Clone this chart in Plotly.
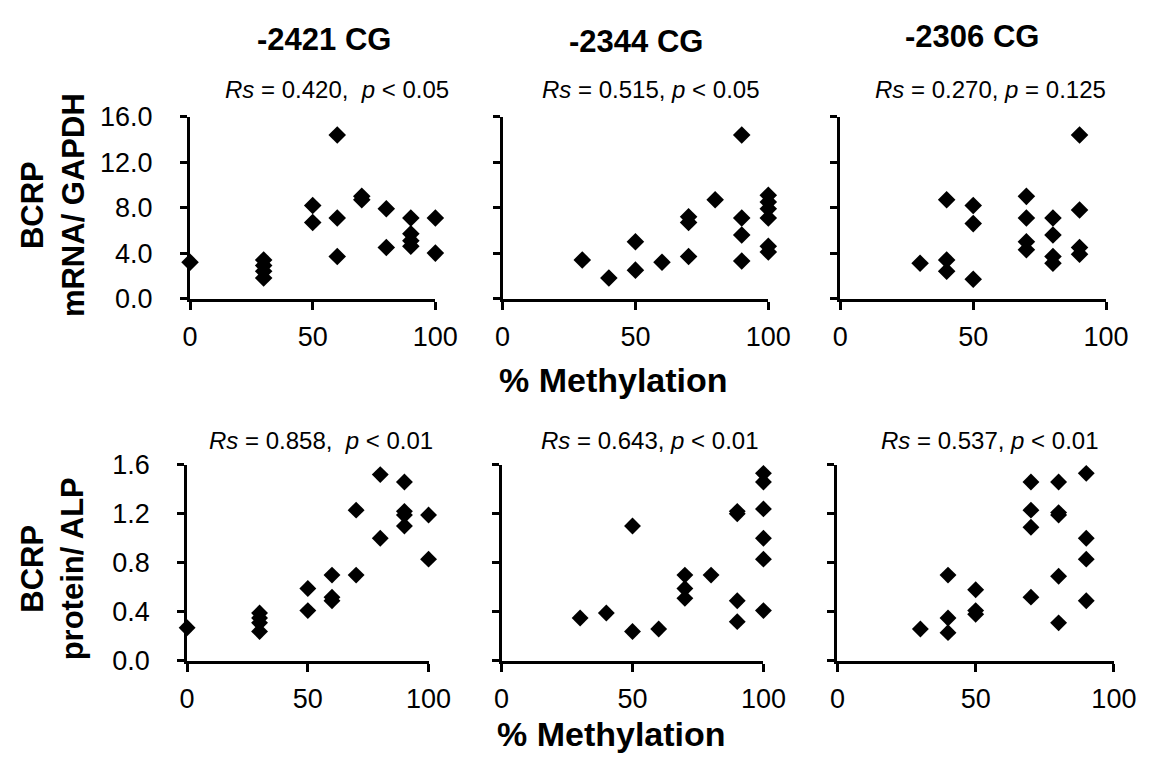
import plotly.graph_objects as go

W, H = 1170, 771

# ---------------- data ----------------
cg_titles = ["-2421 CG", "-2344 CG", "-2306 CG"]
mrna_stats = ["<i>Rs</i> = 0.420,  <i>p</i> < 0.05",
              "<i>Rs</i> = 0.515, <i>p</i> < 0.05",
              "<i>Rs</i> = 0.270, <i>p</i> = 0.125"]
prot_stats = ["<i>Rs</i> = 0.858,  <i>p</i> < 0.01",
              "<i>Rs</i> = 0.643, <i>p</i> < 0.01",
              "<i>Rs</i> = 0.537, <i>p</i> < 0.01"]

# BCRP mRNA / GAPDH vs % methylation
mrna_x_2421 = [0, 30, 30, 30, 30, 50, 50, 60, 60, 60, 70, 70, 80, 80, 90, 90, 90, 90, 100, 100]
mrna_y_2421 = [3.2, 3.4, 2.9, 2.4, 1.8, 8.2, 6.7, 14.4, 7.1, 3.7, 9.0, 8.7, 7.9, 4.5, 7.1, 5.7, 5.1, 4.6, 7.1, 4.0]

mrna_x_2344 = [30, 40, 50, 50, 60, 70, 70, 70, 80, 90, 90, 90, 90, 100, 100, 100, 100, 100, 100]
mrna_y_2344 = [3.4, 1.8, 5.0, 2.5, 3.2, 7.2, 6.7, 3.7, 8.7, 14.4, 7.1, 5.6, 3.3, 9.1, 8.5, 7.9, 7.1, 4.6, 4.1]

mrna_x_2306 = [30, 40, 40, 40, 50, 50, 50, 70, 70, 70, 70, 80, 80, 80, 80, 90, 90, 90, 90]
mrna_y_2306 = [3.1, 8.7, 3.4, 2.4, 8.2, 6.6, 1.7, 9.0, 7.1, 5.0, 4.3, 7.1, 5.6, 3.7, 3.1, 14.4, 7.8, 4.5, 3.9]

# BCRP protein / ALP vs % methylation
prot_x_2421 = [0, 30, 30, 30, 30, 50, 50, 60, 60, 60, 70, 70, 80, 80, 90, 90, 90, 90, 100, 100]
prot_y_2421 = [0.27, 0.39, 0.35, 0.31, 0.24, 0.59, 0.41, 0.70, 0.52, 0.49, 1.23, 0.70, 1.52, 1.00, 1.46, 1.22, 1.19, 1.10, 1.19, 0.83]

prot_x_2344 = [30, 40, 50, 50, 60, 70, 70, 70, 80, 90, 90, 90, 90, 100, 100, 100, 100, 100, 100]
prot_y_2344 = [0.35, 0.39, 1.10, 0.24, 0.26, 0.70, 0.59, 0.51, 0.70, 1.22, 1.20, 0.49, 0.32, 1.53, 1.46, 1.24, 1.00, 0.83, 0.41]

prot_x_2306 = [30, 40, 40, 40, 50, 50, 50, 70, 70, 70, 70, 80, 80, 80, 80, 80, 90, 90, 90, 90]
prot_y_2306 = [0.26, 0.70, 0.35, 0.23, 0.58, 0.41, 0.38, 1.46, 1.23, 1.09, 0.52, 1.46, 1.21, 1.19, 0.69, 0.31, 1.53, 1.00, 0.83, 0.49]

x_ticks = [0, 50, 100]
mrna_ticks = [0, 4, 8, 12, 16]
prot_ticks = [0, 0.4, 0.8, 1.2, 1.6]

# ---------------- layout helpers ----------------
FONT = "Liberation Sans, Arial, sans-serif"


def px_x(p):
    return p / W


def px_y(p):
    return 1 - p / H


# plot-area pixel boxes (left, right, top, bottom)
boxes = [
    (187, 439, 106, 295), (508, 781, 106, 295), (855, 1128, 106, 295),
    (184, 432, 468, 672), (507, 776, 468, 672), (852, 1136, 468, 672),
]

series = [
    (mrna_x_2421, mrna_y_2421), (mrna_x_2344, mrna_y_2344), (mrna_x_2306, mrna_y_2306),
    (prot_x_2421, prot_y_2421), (prot_x_2344, prot_y_2344), (prot_x_2306, prot_y_2306),
]

fig = go.Figure()
layout = {}
for i, ((xs, ys), (l, r, t, b)) in enumerate(zip(series, boxes)):
    n = i + 1
    xa = "xaxis" if n == 1 else f"xaxis{n}"
    ya = "yaxis" if n == 1 else f"yaxis{n}"
    xr = "x" if n == 1 else f"x{n}"
    yr = "y" if n == 1 else f"y{n}"
    top_row = i < 3
    fig.add_trace(go.Scatter(
        x=xs, y=ys, xaxis=xr, yaxis=yr, mode="markers", cliponaxis=False,
        marker=dict(symbol="diamond", size=13.5 if top_row else 13, color="black",
                    line=dict(width=0)),
        showlegend=False, hoverinfo="x+y"))
    layout[xa] = dict(
        domain=[px_x(l), px_x(r)], anchor=yr, range=[0, 100],
        tickvals=x_ticks, ticktext=[str(v) for v in x_ticks],
        showline=True, linecolor="black", linewidth=3, mirror=False,
        ticks="outside", ticklen=8, tickwidth=3, tickcolor="black",
        showgrid=False, zeroline=False,
        tickfont=dict(family=FONT, size=27, color="black"),
        ticklabelstandoff=4, fixedrange=True)
    yt = mrna_ticks if top_row else prot_ticks
    layout[ya] = dict(
        domain=[px_y(b), px_y(t)], anchor=xr, range=[0, yt[-1]],
        tickvals=yt, ticktext=[f"{v:.1f}" for v in yt],
        showticklabels=(i % 3 == 0),
        showline=True, linecolor="black", linewidth=3, mirror=False,
        ticks="outside", ticklen=7, tickwidth=3, tickcolor="black",
        showgrid=False, zeroline=False,
        tickfont=dict(family=FONT, size=27, color="black"),
        ticklabelstandoff=22, fixedrange=True)

annotations = []


def ann(text, x, y, size, bold=False, angle=0):
    annotations.append(dict(
        text=f"<b>{text}</b>" if bold else text, x=px_x(x), y=px_y(y),
        xref="paper", yref="paper", xanchor="center", yanchor="middle",
        showarrow=False, textangle=angle, align="center",
        font=dict(family=FONT, size=size, color="black")))


# column titles
for title, cx, cy in zip(cg_titles, [325, 645, 990], [25, 28, 22]):
    ann(title, cx, cy, 31, bold=True)
# statistics
for s, cx in zip(mrna_stats, [338, 660, 1009]):
    ann(s, cx, 77, 24)
for s, cx in zip(prot_stats, [322, 659, 1009]):
    ann(s, cx, 443, 24)
# x-axis titles
ann("% Methylation", 622, 380, 34, bold=True)
ann("% Methylation", 620, 748, 34, bold=True)
# y-axis titles
ann("BCRP<br>mRNA/ GAPDH", 46, 198, 31, bold=True, angle=-90)
ann("BCRP<br>protein/ ALP", 46, 576, 31, bold=True, angle=-90)

fig.update_layout(
    width=W, height=H, margin=dict(l=0, r=0, t=0, b=0),
    paper_bgcolor="white", plot_bgcolor="white",
    font=dict(family=FONT, color="black"),
    annotations=annotations, **layout)

fig.write_html("out.html")
